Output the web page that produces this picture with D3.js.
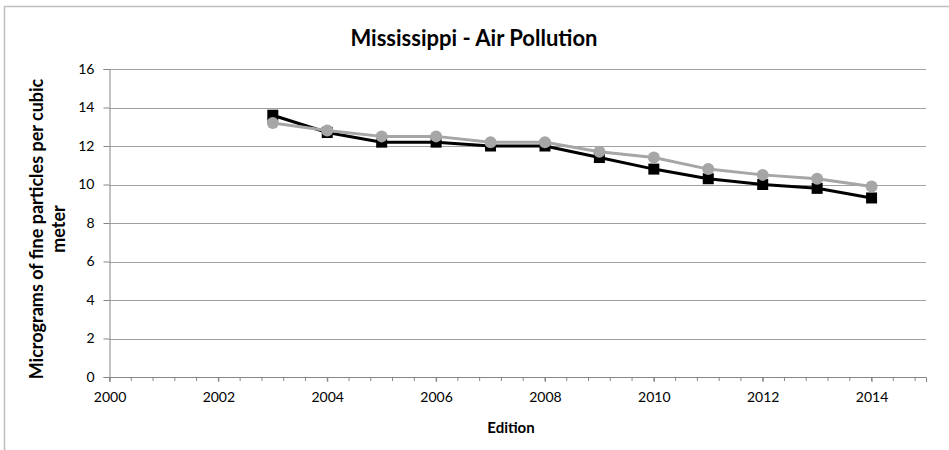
<!DOCTYPE html>
<html>
<head>
<meta charset="utf-8">
<script src="https://cdn.jsdelivr.net/npm/d3@7"></script>
<style>
  html, body { margin: 0; padding: 0; background: #fff; }
  svg { display: block; }
  text { font-family: Lato, "Open Sans", sans-serif; }
</style>
</head>
<body>
<svg id="chart" width="949" height="450"></svg>
<script>
const years = [2003, 2004, 2005, 2006, 2007, 2008, 2009, 2010, 2011, 2012, 2013, 2014];
const seriesBlack = [13.6, 12.7, 12.2, 12.2, 12.0, 12.0, 11.4, 10.8, 10.3, 10.0, 9.8, 9.3];
const seriesGray = [13.2, 12.8, 12.5, 12.5, 12.2, 12.2, 11.7, 11.4, 10.8, 10.5, 10.3, 9.9];
const xTicks = [2000, 2002, 2004, 2006, 2008, 2010, 2012, 2014];
const yTicks = [0, 2, 4, 6, 8, 10, 12, 14, 16];
const titleText = "Mississippi - Air Pollution";
const xTitle = "Edition";
const yTitleLines = ["Micrograms of fine particles per cubic", "meter"];

const svg = d3.select("#chart");
const mLeft = 109.5, mRight = 926, mTop = 69, mBottom = 377;

// outer border
svg.append("rect").attr("x", 4.5).attr("y", 6.5).attr("width", 960).attr("height", 460)
  .attr("fill", "none").attr("stroke", "#bfbfbf").attr("stroke-width", 1.5);

const x = d3.scaleLinear().domain([2000, 2015]).range([mLeft, mRight]);
const y = d3.scaleLinear().domain([0, 16]).range([mBottom, mTop]);

// gridlines
svg.append("g").selectAll("line").data(yTicks.filter(d => d > 0)).join("line")
  .attr("x1", mLeft).attr("x2", mRight)
  .attr("y1", d => Math.round(y(d)) + 0.5).attr("y2", d => Math.round(y(d)) + 0.5)
  .attr("stroke", "#a0a0a0").attr("stroke-width", 1);

// y axis
const yAxis = d3.axisLeft(y).tickValues(yTicks).tickSize(6).tickPadding(9).tickFormat(d3.format("d"));
const gy = svg.append("g").attr("transform", `translate(${mLeft},0)`).call(yAxis);
gy.select(".domain").attr("stroke", "#868686");
gy.selectAll(".tick line").attr("stroke", "#868686");
gy.selectAll(".tick text").attr("font-size", 14).attr("fill", "#000");

// x axis minor ticks (every 0.4)
const minor = d3.range(0, 38).map(i => 2000 + i * 0.4).filter(v => v <= 2015.001);
svg.append("g").selectAll("line").data(minor).join("line")
  .attr("x1", d => x(d)).attr("x2", d => x(d))
  .attr("y1", mBottom).attr("y2", mBottom + 4)
  .attr("stroke", "#868686");

const xAxis = d3.axisBottom(x).tickValues(xTicks).tickSize(5).tickPadding(10).tickFormat(d3.format("d"));
const gx = svg.append("g").attr("transform", `translate(0,${mBottom})`).call(xAxis);
gx.select(".domain").attr("stroke", "#868686");
gx.selectAll(".tick line").attr("stroke", "#868686");
gx.selectAll(".tick text").attr("font-size", 14).attr("fill", "#000");

// lines
const data = years.map((yr, i) => ({ yr, b: seriesBlack[i], g: seriesGray[i] }));
const lineB = d3.line().x(d => x(d.yr)).y(d => y(d.b));
const lineG = d3.line().x(d => x(d.yr)).y(d => y(d.g));

svg.append("path").datum(data).attr("d", lineB).attr("fill", "none")
  .attr("stroke", "#000").attr("stroke-width", 3).attr("stroke-linejoin", "round");
svg.selectAll(".sq").data(data).join("rect").attr("class", "sq")
  .attr("x", d => x(d.yr) - 5.5).attr("y", d => y(d.b) - 5.5)
  .attr("width", 11).attr("height", 11).attr("fill", "#000");

svg.append("path").datum(data).attr("d", lineG).attr("fill", "none")
  .attr("stroke", "#a6a6a6").attr("stroke-width", 3).attr("stroke-linejoin", "round");
svg.selectAll(".ci").data(data).join("circle").attr("class", "ci")
  .attr("cx", d => x(d.yr)).attr("cy", d => y(d.g)).attr("r", 6)
  .attr("fill", "#a6a6a6");

// titles
svg.append("text").attr("x", 474).attr("y", 46).attr("text-anchor", "middle")
  .attr("font-size", 22).attr("font-weight", "bold").text(titleText);
svg.append("text").attr("x", 511).attr("y", 433).attr("text-anchor", "middle")
  .attr("font-size", 15).attr("font-weight", "bold").text(xTitle);
const yt = svg.append("text").attr("transform", "translate(43,229) rotate(-90)")
  .attr("text-anchor", "middle").attr("font-size", 18).attr("font-weight", "bold");
yTitleLines.forEach((t, i) => yt.append("tspan").attr("x", 0).attr("dy", i === 0 ? 0 : 22).text(t));
</script>
</body>
</html>
